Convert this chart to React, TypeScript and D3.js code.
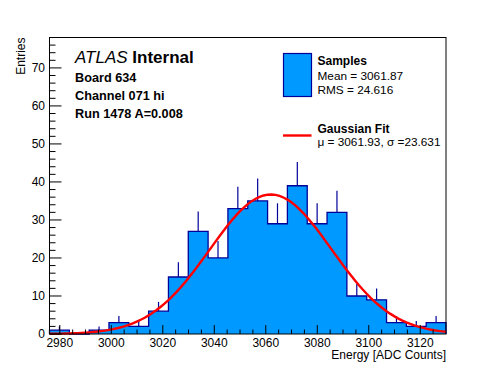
import { useEffect, useRef } from 'react';
import * as d3 from 'd3';

// histogram: 20 bins starting at binStart, each binWidth wide
const binStart = 2976;
const binWidth = 7.7;
const counts = [1, 0, 1, 3, 2, 6, 15, 27, 20, 33, 35, 29, 39, 29, 32, 10, 9, 3, 2, 3];

// gaussian fit parameters
const fitConst = 36.7;
const fitMean = 3061.93;
const fitSigma = 23.631;

const xTicks = [2980, 3000, 3020, 3040, 3060, 3080, 3100, 3120];
const yTicks = [0, 10, 20, 30, 40, 50, 60, 70];

const titleLines = ['Board 634', 'Channel 071 hi', 'Run 1478 A=0.008'];
const legendSamples = ['Mean = 3061.87', 'RMS = 24.616'];
const legendFit = 'μ = 3061.93, σ =23.631';

const FONT = '"Liberation Sans", Arial, Helvetica, sans-serif';
const FILL = '#0099ff';
const LINE = '#000099';

export default function App() {
    const ref = useRef<SVGSVGElement>(null);

    useEffect(() => {
        const svg = d3.select(ref.current);
        svg.selectAll('*').remove();

        const left = 49.5, right = 446, top = 37.5, bottom = 334;
        const binEnd = binStart + binWidth * counts.length;

        const x = d3.scaleLinear().domain([binStart, binEnd]).range([left, right]);
        const y = d3.scaleLinear().domain([0, 78]).range([bottom, top]);

        const g = svg.append('g');

        // filled histogram
        const edges = counts.map((_, i) => binStart + i * binWidth);
        const stepPts: [number, number][] = [[binStart, 0]];
        counts.forEach((c, i) => {
            stepPts.push([edges[i], c]);
            stepPts.push([edges[i] + binWidth, c]);
        });
        stepPts.push([binEnd, 0]);
        const line = d3.line<[number, number]>().x(d => x(d[0])).y(d => y(d[1]));

        g.append('path')
            .attr('d', line(stepPts) + 'Z')
            .attr('fill', FILL)
            .attr('stroke', 'none');

        // error bars (upper half visible above the fill)
        g.selectAll('line.err')
            .data(counts)
            .enter()
            .append('line')
            .attr('x1', (d, i) => x(edges[i] + binWidth / 2))
            .attr('x2', (d, i) => x(edges[i] + binWidth / 2))
            .attr('y1', d => y(d))
            .attr('y2', d => y(d + Math.sqrt(d)))
            .attr('stroke', LINE)
            .attr('stroke-width', 1.2);

        g.append('path')
            .attr('d', line(stepPts))
            .attr('fill', 'none')
            .attr('stroke', LINE)
            .attr('stroke-width', 1.3);

        // gaussian fit curve
        const fitX = d3.range(0, 101).map(k => binStart + (binEnd - binStart) * k / 100);
        const fitPts: [number, number][] = fitX.map(v => [v, fitConst * Math.exp(-0.5 * ((v - fitMean) / fitSigma) ** 2)]);
        g.append('path')
            .attr('d', line(fitPts))
            .attr('fill', 'none')
            .attr('stroke', '#ff0000')
            .attr('stroke-width', 2.4);

        // frame
        g.append('rect')
            .attr('x', left).attr('y', top)
            .attr('width', right - left).attr('height', bottom - top)
            .attr('fill', 'none').attr('stroke', 'black').attr('stroke-width', 1);

        // x ticks
        const xMinor = d3.range(2980, binEnd, 5);
        g.selectAll('line.xt')
            .data(xMinor)
            .enter()
            .append('line')
            .attr('x1', d => x(d)).attr('x2', d => x(d))
            .attr('y1', bottom)
            .attr('y2', d => bottom - (d % 20 === 0 ? 9 : 4.5))
            .attr('stroke', 'black');
        g.selectAll('text.xl')
            .data(xTicks)
            .enter()
            .append('text')
            .attr('x', d => x(d)).attr('y', 347)
            .attr('text-anchor', 'middle')
            .attr('font-family', FONT).attr('font-size', 12)
            .text(d => d);

        // y ticks
        const yMinor = d3.range(0, 78.1, 2);
        g.selectAll('line.yt')
            .data(yMinor)
            .enter()
            .append('line')
            .attr('x1', left)
            .attr('x2', d => left + (d % 10 === 0 ? 12 : 6))
            .attr('y1', d => y(d)).attr('y2', d => y(d))
            .attr('stroke', 'black');
        g.selectAll('text.yl')
            .data(yTicks)
            .enter()
            .append('text')
            .attr('x', 45).attr('y', d => y(d) + 4)
            .attr('text-anchor', 'end')
            .attr('font-family', FONT).attr('font-size', 12)
            .text(d => d);

        // axis titles
        g.append('text')
            .attr('x', right).attr('y', 359)
            .attr('text-anchor', 'end')
            .attr('font-family', FONT).attr('font-size', 12)
            .text('Energy [ADC Counts]');
        g.append('text')
            .attr('transform', `translate(24.5, ${top}) rotate(-90)`)
            .attr('text-anchor', 'end')
            .attr('font-family', FONT).attr('font-size', 12)
            .text('Entries');

        // ATLAS label
        const atlas = g.append('text')
            .attr('x', 75).attr('y', 62.5)
            .attr('font-family', FONT).attr('font-size', 17);
        atlas.append('tspan').attr('font-style', 'italic').text('ATLAS ');
        atlas.append('tspan').attr('font-weight', 'bold').text('Internal');

        g.selectAll('text.info')
            .data(titleLines)
            .enter()
            .append('text')
            .attr('x', 75).attr('y', (d, i) => 81.5 + i * 18)
            .attr('font-family', FONT).attr('font-size', 12.7).attr('font-weight', 'bold')
            .text(d => d);

        // legend
        g.append('rect')
            .attr('x', 283.5).attr('y', 53.5)
            .attr('width', 28).attr('height', 43)
            .attr('fill', FILL).attr('stroke', LINE).attr('stroke-width', 1.2);
        g.append('text')
            .attr('x', 317.5).attr('y', 65)
            .attr('font-family', FONT).attr('font-size', 12).attr('font-weight', 'bold')
            .text('Samples');
        g.selectAll('text.ls')
            .data(legendSamples)
            .enter()
            .append('text')
            .attr('x', 317.5).attr('y', (d, i) => 79.5 + i * 14)
            .attr('font-family', FONT).attr('font-size', 11.8)
            .text(d => d);

        g.append('line')
            .attr('x1', 283).attr('x2', 311.5)
            .attr('y1', 135.5).attr('y2', 135.5)
            .attr('stroke', '#ff0000').attr('stroke-width', 2.4);
        g.append('text')
            .attr('x', 317.5).attr('y', 133.3)
            .attr('font-family', FONT).attr('font-size', 12).attr('font-weight', 'bold')
            .text('Gaussian Fit');
        g.append('text')
            .attr('x', 317.5).attr('y', 145.5)
            .attr('font-family', FONT).attr('font-size', 11.8)
            .text(legendFit);
    }, []);

    return (
        <svg
            ref={ref}
            width={496}
            height={372}
            style={{ position: 'absolute', left: 0, top: 0, display: 'block', background: 'white' }}
        />
    );
}
